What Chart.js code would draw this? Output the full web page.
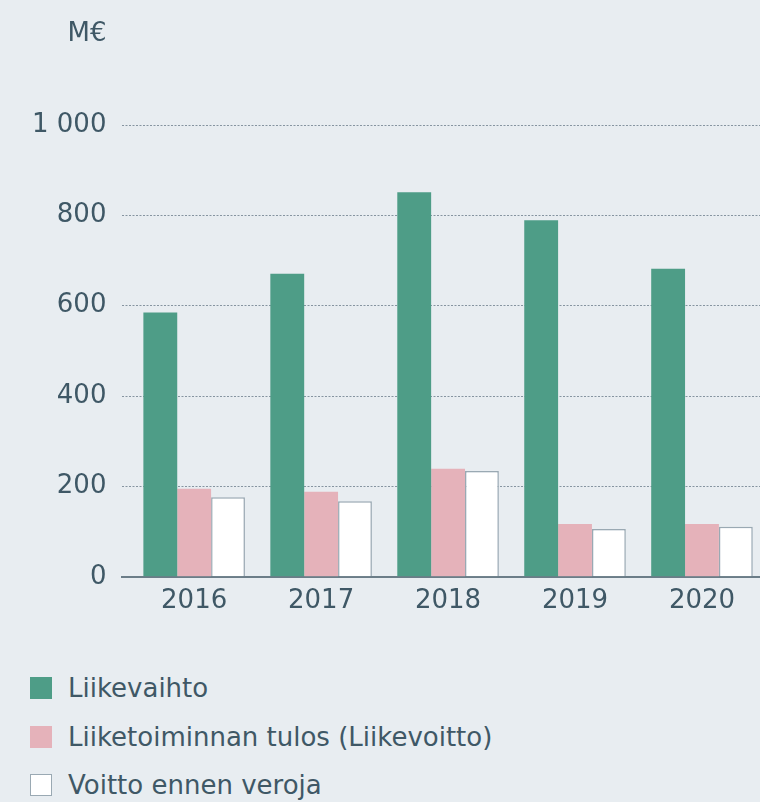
<!DOCTYPE html>
<html>
<head>
<meta charset="utf-8">
<script src="https://cdn.jsdelivr.net/npm/chart.js@4.4.1/dist/chart.umd.min.js"></script>
<style>
  html, body { margin: 0; padding: 0; background: #e8edf1; }
  body { width: 760px; height: 802px; overflow: hidden; font-family: 'DejaVu Sans', sans-serif; color: #3f5866; }
  #chartWrap { position: relative; width: 760px; height: 640px; }
  #legend { list-style: none; margin: 0; padding: 0; position: absolute; left: 30px; top: 664px; }
  #legend li { display: flex; align-items: center; height: 48.5px; font-size: 26px; }
  #legend .box { width: 22px; height: 22px; margin-right: 16px; box-sizing: border-box; }
</style>
</head>
<body>
<div id="chartWrap"><canvas id="salesChart" width="760" height="640"></canvas></div>
<ul id="legend"></ul>
<script>
const years = ['2016', '2017', '2018', '2019', '2020'];
const liikevaihto = [585, 671, 851, 789, 682];
const liikevoitto = [195, 188, 239, 117, 117];
const voittoEnnenVeroja = [176, 167, 234, 106, 111];
const yTicks = [0, 200, 400, 600, 800, 1000];

const textColor = '#3f5866';
const labelFont = { family: "'DejaVu Sans', sans-serif", size: 26 };

function formatNumber(num) {
    return String(num).replace(/\B(?=(\d{3})+(?!\d))/g, ' ');
}

function toPoints(values) {
    return values.map((v, i) => ({ x: i, y: v }));
}

// unit label above the y axis
const unitLabel = {
    id: 'unitLabel',
    afterDraw(chart) {
        const y = chart.scales.y;
        const ctx = chart.ctx;
        ctx.save();
        ctx.font = "26px 'DejaVu Sans', sans-serif";
        ctx.fillStyle = textColor;
        ctx.textAlign = 'right';
        ctx.textBaseline = 'middle';
        ctx.fillText('M€', y.right - 16, 34);
        ctx.restore();
    }
};

const ctx = document.getElementById('salesChart').getContext('2d');
const salesChart = new Chart(ctx, {
    type: 'bar',
    data: {
        datasets: [{
            label: 'Liikevaihto',
            data: toPoints(liikevaihto),
            backgroundColor: '#4e9d87',
            borderWidth: 0
        }, {
            label: 'Liiketoiminnan tulos (Liikevoitto)',
            data: toPoints(liikevoitto),
            backgroundColor: '#e5b2ba',
            borderWidth: 0
        }, {
            label: 'Voitto ennen veroja',
            data: toPoints(voittoEnnenVeroja),
            backgroundColor: '#ffffff',
            borderColor: '#9aa9b3',
            borderWidth: 1.5
        }]
    },
    options: {
        responsive: false,
        animation: false,
        barPercentage: 1,
        categoryPercentage: 0.8,
        layout: { padding: { top: 125, left: 16, right: 0, bottom: 14 } },
        plugins: {
            legend: { display: false },
            tooltip: { enabled: false }
        },
        scales: {
            x: {
                type: 'linear',
                offset: false,
                min: -0.565,
                max: 4.457,
                afterBuildTicks: function(scale) {
                    scale.ticks = years.map((y, i) => ({ value: i }));
                },
                grid: { display: false, drawTicks: false, offset: false },
                border: { display: true, color: '#6b7d88', width: 2 },
                ticks: {
                    color: textColor,
                    font: labelFont,
                    padding: 9,
                    autoSkip: false,
                    maxRotation: 0,
                    callback: function(value) {
                        return years[value];
                    }
                }
            },
            y: {
                min: 0,
                max: 1000,
                afterBuildTicks: function(scale) {
                    scale.ticks = yTicks.map(v => ({ value: v }));
                },
                grid: { color: '#8694a0', lineWidth: 1, drawTicks: false },
                border: { display: false, dash: [2, 1.5] },
                ticks: {
                    color: textColor,
                    font: labelFont,
                    padding: 16,
                    callback: function(value) {
                        return formatNumber(value);
                    }
                }
            }
        }
    },
    plugins: [unitLabel]
});

// html legend, one item per line
let html = '';
salesChart.data.datasets.forEach(function(ds) {
    const border = ds.borderWidth ? '1.5px solid ' + ds.borderColor : 'none';
    html += '<li><span class="box" style="background:' + ds.backgroundColor + ';border:' + border + '"></span>';
    html += '<span>' + ds.label + '</span></li>';
});
document.getElementById('legend').innerHTML = html;
</script>
</body>
</html>
